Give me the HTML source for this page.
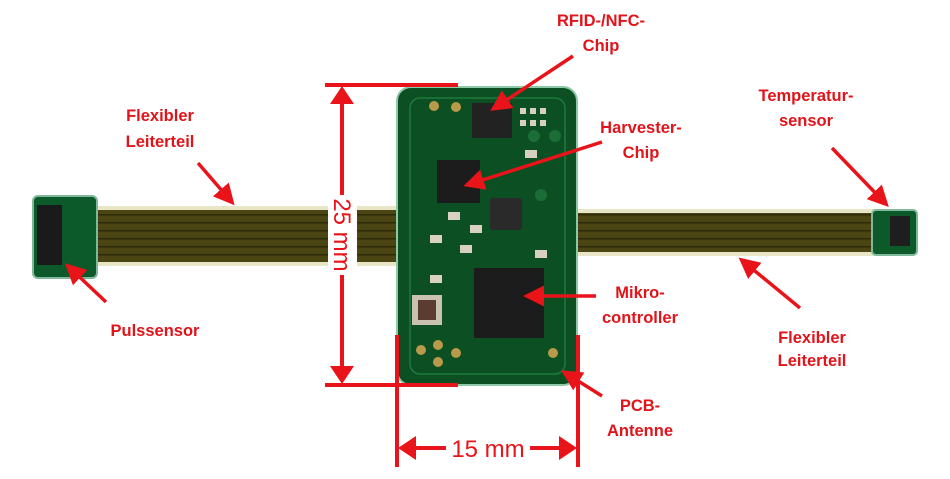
<!DOCTYPE html>
<html><head><style>
html,body{margin:0;padding:0;background:#fff;}
svg{display:block;}
text{font-family:"Liberation Sans",sans-serif;}
.l{font-weight:bold;font-size:16.5px;fill:#e0141a;text-anchor:middle;}
</style></head><body>
<svg width="950" height="479" viewBox="0 0 950 479" xmlns="http://www.w3.org/2000/svg">
<defs>
<marker id="ah" markerWidth="6" markerHeight="6" refX="4" refY="3" orient="auto" markerUnits="strokeWidth">
<path d="M0,0 L6,3 L0,6 z" fill="#e8141a"/></marker>
<pattern id="st" width="10" height="8" patternUnits="userSpaceOnUse">
<rect width="10" height="8" fill="#4a4512"/><rect y="6" width="10" height="1.5" fill="#2e2b0a"/></pattern>
</defs>
<!-- flex strips -->
<rect x="95" y="206" width="305" height="60" fill="#e9e6c8"/>
<rect x="95" y="210" width="305" height="52" fill="url(#st)"/>
<rect x="575" y="209" width="300" height="47" fill="#e9e6c8"/>
<rect x="575" y="213" width="300" height="39" fill="url(#st)"/>
<rect x="328" y="200" width="29" height="72" fill="#fff"/>
<!-- left sensor -->
<rect x="33" y="196" width="64" height="82" rx="5" fill="#0c5a2a" stroke="#7fb89a" stroke-width="2"/>
<rect x="37" y="205" width="25" height="60" fill="#1a1a1a"/>
<!-- right sensor -->
<rect x="872" y="210" width="45" height="45" rx="4" fill="#0c5a2a" stroke="#7fb89a" stroke-width="2"/>
<rect x="890" y="216" width="20" height="30" fill="#1e1e1e"/>
<!-- main board -->
<rect x="397" y="87" width="180" height="298" rx="14" fill="#0b4f22" stroke="#8cc9a4" stroke-width="2"/>
<rect x="410" y="98" width="155" height="276" rx="10" fill="none" stroke="#1e7a3c" stroke-width="1.5"/>
<rect x="472" y="103" width="40" height="35" fill="#222"/>
<rect x="437" y="160" width="43" height="43" fill="#1c1c1c"/>
<rect x="490" y="198" width="32" height="32" rx="3" fill="#2a2a2a"/>
<rect x="474" y="268" width="70" height="70" fill="#1c1c1c"/>
<rect x="412" y="295" width="30" height="30" fill="#c9c2b0"/>
<rect x="418" y="300" width="18" height="20" fill="#5a3c30"/>
<g fill="#b89a4a"><circle cx="434" cy="106" r="5"/><circle cx="456" cy="107" r="5"/><circle cx="421" cy="350" r="5"/><circle cx="438" cy="345" r="5"/><circle cx="438" cy="362" r="5"/><circle cx="456" cy="353" r="5"/><circle cx="553" cy="353" r="5"/></g>
<g fill="#1a6e36"><circle cx="534" cy="136" r="6"/><circle cx="555" cy="136" r="6"/><circle cx="541" cy="195" r="6"/></g>
<g fill="#d8d0c0"><rect x="520" y="108" width="6" height="6"/><rect x="530" y="108" width="6" height="6"/><rect x="540" y="108" width="6" height="6"/><rect x="520" y="120" width="6" height="6"/><rect x="530" y="120" width="6" height="6"/><rect x="540" y="120" width="6" height="6"/><rect x="448" y="212" width="12" height="8"/><rect x="470" y="225" width="12" height="8"/><rect x="430" y="235" width="12" height="8"/><rect x="460" y="245" width="12" height="8"/><rect x="535" y="250" width="12" height="8"/><rect x="430" y="275" width="12" height="8"/><rect x="525" y="150" width="12" height="8"/></g>
<!-- dimensions -->
<g stroke="#e8141a" stroke-width="4" fill="none">
<line x1="325" y1="85" x2="458" y2="85"/><line x1="325" y1="385" x2="458" y2="385"/>
<line x1="342" y1="95" x2="342" y2="195"/><line x1="342" y1="275" x2="342" y2="375"/>
<line x1="397" y1="335" x2="397" y2="467"/><line x1="578" y1="335" x2="578" y2="467"/>
<line x1="408" y1="448" x2="446" y2="448"/><line x1="530" y1="448" x2="568" y2="448"/>
</g>
<g fill="#e8141a">
<path d="M342,86 L330,104 L354,104 z"/><path d="M342,384 L330,366 L354,366 z"/>
<path d="M398,448 L416,436 L416,460 z"/><path d="M577,448 L559,436 L559,460 z"/>
</g>
<text x="342" y="235" font-size="24" fill="#e8141a" text-anchor="middle" transform="rotate(90 342 235)" dy="8">25 mm</text>
<text x="488" y="457" font-size="24" fill="#e8141a" text-anchor="middle">15 mm</text>
<!-- arrows -->
<g stroke="#e8141a" stroke-width="3.5" marker-end="url(#ah)">
<line x1="573" y1="56" x2="496" y2="107"/>
<line x1="602" y1="142" x2="470" y2="184"/>
<line x1="832" y1="148" x2="884" y2="202"/>
<line x1="198" y1="163" x2="230" y2="200"/>
<line x1="106" y1="302" x2="70" y2="268"/>
<line x1="596" y1="296" x2="530" y2="296"/>
<line x1="800" y1="308" x2="744" y2="262"/>
<line x1="602" y1="396" x2="567" y2="374"/>
</g>
<!-- labels -->
<text class="l" x="601" y="26">RFID-/NFC-</text><text class="l" x="601" y="51">Chip</text>
<text class="l" x="641" y="133">Harvester-</text><text class="l" x="641" y="158">Chip</text>
<text class="l" x="806" y="101">Temperatur-</text><text class="l" x="806" y="126">sensor</text>
<text class="l" x="160" y="121">Flexibler</text><text class="l" x="160" y="147">Leiterteil</text>
<text class="l" x="155" y="336">Pulssensor</text>
<text class="l" x="640" y="298">Mikro-</text><text class="l" x="640" y="323">controller</text>
<text class="l" x="812" y="343">Flexibler</text><text class="l" x="812" y="366">Leiterteil</text>
<text class="l" x="640" y="411">PCB-</text><text class="l" x="640" y="436">Antenne</text>
</svg>
</body></html>
